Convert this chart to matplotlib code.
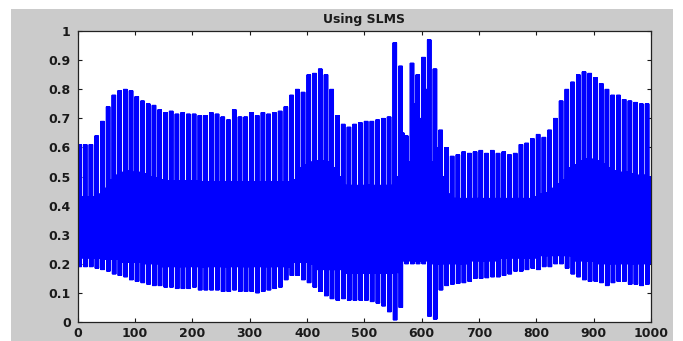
import numpy as np
import matplotlib.pyplot as plt

# one value per 10-sample cycle
peak = [0.61, 0.61, 0.61, 0.64, 0.69, 0.74, 0.78, 0.795, 0.80, 0.795,
        0.775, 0.76, 0.75, 0.745, 0.73, 0.72, 0.725, 0.715, 0.72, 0.715,
        0.715, 0.71, 0.71, 0.72, 0.715, 0.705, 0.695, 0.73, 0.705, 0.705,
        0.72, 0.71, 0.72, 0.715, 0.72, 0.725, 0.74, 0.78, 0.80, 0.79,
        0.85, 0.855, 0.87, 0.85, 0.80, 0.71, 0.68, 0.67, 0.68, 0.685,
        0.69, 0.69, 0.695, 0.70, 0.705, 0.96, 0.88, 0.64, 0.89, 0.85,
        0.91, 0.97, 0.87, 0.66, 0.60, 0.57, 0.575, 0.585, 0.58, 0.585,
        0.59, 0.58, 0.59, 0.58, 0.585, 0.575, 0.58, 0.61, 0.615, 0.63,
        0.645, 0.635, 0.66, 0.70, 0.76, 0.80, 0.825, 0.85, 0.86, 0.855,
        0.84, 0.82, 0.80, 0.78, 0.78, 0.765, 0.76, 0.755, 0.75, 0.75]

trough = [0.19, 0.19, 0.19, 0.185, 0.18, 0.175, 0.165, 0.16, 0.155, 0.145,
          0.14, 0.135, 0.13, 0.125, 0.125, 0.12, 0.12, 0.115, 0.115, 0.115,
          0.12, 0.11, 0.11, 0.11, 0.11, 0.105, 0.105, 0.11, 0.105, 0.105,
          0.105, 0.10, 0.105, 0.11, 0.115, 0.12, 0.145, 0.16, 0.16, 0.145,
          0.135, 0.12, 0.105, 0.09, 0.08, 0.075, 0.08, 0.075, 0.075, 0.075,
          0.075, 0.07, 0.065, 0.055, 0.035, 0.007, 0.05, 0.20, 0.20, 0.20,
          0.20, 0.02, 0.01, 0.11, 0.125, 0.13, 0.133, 0.135, 0.14, 0.15,
          0.15, 0.152, 0.155, 0.155, 0.16, 0.165, 0.175, 0.175, 0.18, 0.185,
          0.18, 0.19, 0.19, 0.20, 0.20, 0.185, 0.165, 0.155, 0.145, 0.14,
          0.14, 0.135, 0.125, 0.135, 0.14, 0.14, 0.13, 0.13, 0.125, 0.13]

band_hi = [0.43, 0.43, 0.43, 0.44, 0.46, 0.49, 0.505, 0.515, 0.52, 0.515,
           0.515, 0.51, 0.50, 0.495, 0.49, 0.485, 0.485, 0.485, 0.485, 0.485,
           0.485, 0.483, 0.483, 0.483, 0.483, 0.483, 0.483, 0.483, 0.483, 0.483,
           0.483, 0.483, 0.483, 0.483, 0.483, 0.483, 0.483, 0.49, 0.53, 0.54,
           0.55, 0.555, 0.555, 0.55, 0.53, 0.50, 0.47, 0.47, 0.47, 0.47,
           0.47, 0.47, 0.47, 0.47, 0.47, 0.50, 0.65, 0.55, 0.75, 0.70,
           0.80, 0.55, 0.60, 0.50, 0.44, 0.425, 0.425, 0.425, 0.425, 0.425,
           0.425, 0.425, 0.425, 0.425, 0.425, 0.425, 0.425, 0.425, 0.425, 0.43,
           0.44, 0.445, 0.46, 0.475, 0.49, 0.53, 0.54, 0.555, 0.56, 0.56,
           0.555, 0.545, 0.53, 0.52, 0.515, 0.515, 0.51, 0.505, 0.505, 0.50]

band_lo = [0.22, 0.22, 0.22, 0.22, 0.215, 0.215, 0.215, 0.205, 0.205, 0.205,
           0.205, 0.20, 0.20, 0.20, 0.19, 0.19, 0.19, 0.19, 0.19, 0.19,
           0.19, 0.19, 0.19, 0.19, 0.19, 0.19, 0.19, 0.19, 0.19, 0.19,
           0.19, 0.19, 0.19, 0.19, 0.19, 0.19, 0.19, 0.205, 0.205, 0.205,
           0.20, 0.18, 0.18, 0.18, 0.18, 0.18, 0.167, 0.167, 0.167, 0.167,
           0.167, 0.167, 0.167, 0.167, 0.167, 0.17, 0.21, 0.21, 0.21, 0.21,
           0.21, 0.20, 0.20, 0.20, 0.20, 0.20, 0.20, 0.20, 0.21, 0.21,
           0.21, 0.21, 0.21, 0.22, 0.22, 0.22, 0.22, 0.22, 0.22, 0.22,
           0.228, 0.228, 0.228, 0.228, 0.228, 0.228, 0.21, 0.21, 0.21, 0.21,
           0.20, 0.20, 0.20, 0.20, 0.20, 0.20, 0.20, 0.20, 0.20, 0.20]

# each cycle: fast swing between peak and trough, then a short dip inside the band
signal = []
for p, t, h, l in zip(peak, trough, band_hi, band_lo):
    signal += [p, t] * 7 + [h, l, h, l, h, l]
n = np.arange(len(signal)) * 0.5

fig = plt.figure(figsize=(6.83, 3.41), dpi=100)
fig.patch.set_facecolor("white")
fig.patches.append(plt.Rectangle((0.0161, 0), 0.969, 0.9736, transform=fig.transFigure,
                                 facecolor="#cbcbcb", edgecolor="none", zorder=-1))

ax = fig.add_axes([0.1138, 0.0557, 0.8395, 0.853])
ax.plot(n, signal, color="b", lw=0.8)
ax.set_xlim(0, 1000)
ax.set_ylim(0, 1)
ax.set_xticks(range(0, 1001, 100))
yt = np.arange(0, 1.01, 0.1)
ax.set_yticks(yt)
ax.set_yticklabels(["0"] + ["%.1f" % v for v in yt[1:-1]] + ["1"])
ax.tick_params(direction="in", top=True, right=True, labelsize=9, length=3, width=0.8,
               colors="#1a1a1a")
ax.tick_params(axis="x", pad=3.5)
ax.tick_params(axis="y", pad=5)
for lab in ax.get_xticklabels() + ax.get_yticklabels():
    lab.set_fontweight("bold")
for s in ax.spines.values():
    s.set_color("#222222")
    s.set_linewidth(0.9)
ax.set_title("Using SLMS", fontsize=9, fontweight="bold", color="#1a1a1a", pad=6)

fig.savefig("out.png", dpi=100)
plt.close()
